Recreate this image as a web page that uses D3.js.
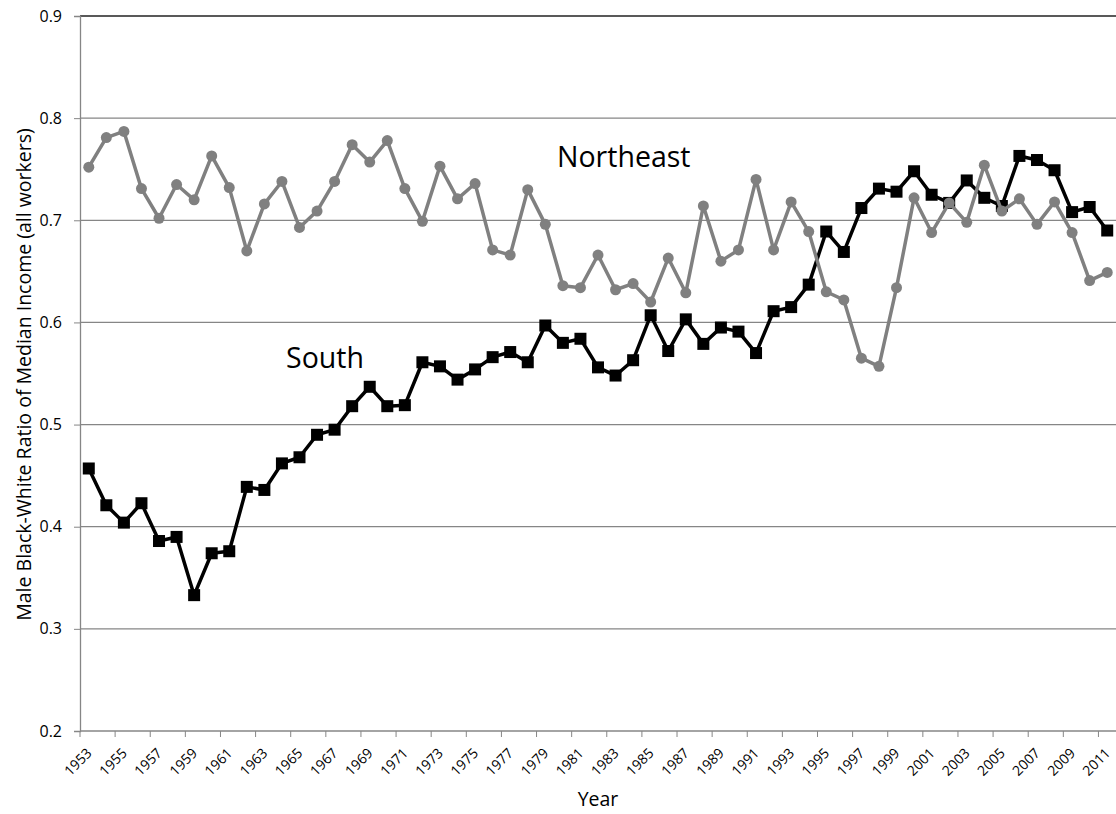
<!DOCTYPE html>
<html>
<head>
<meta charset="utf-8">
<script src="https://cdn.jsdelivr.net/npm/d3@7"></script>
<style>
  body { margin: 0; background: #fff; }
  text { font-family: "Open Sans", sans-serif; fill: #000; }
</style>
</head>
<body>
<svg id="chart" width="1116" height="814"></svg>
<script>
// Years on the category axis
const years = d3.range(1953, 2012);

// Male black-white ratio of median income, Northeast (gray circles)
const northeast = [0.752, 0.781, 0.787, 0.731, 0.702, 0.735, 0.720, 0.763, 0.732, 0.670,
  0.716, 0.738, 0.693, 0.709, 0.738, 0.774, 0.757, 0.778, 0.731, 0.699,
  0.753, 0.721, 0.736, 0.671, 0.666, 0.730, 0.696, 0.636, 0.634, 0.666,
  0.632, 0.638, 0.620, 0.663, 0.629, 0.714, 0.660, 0.671, 0.740, 0.671,
  0.718, 0.689, 0.630, 0.622, 0.565, 0.557, 0.634, 0.722, 0.688, 0.717,
  0.698, 0.754, 0.709, 0.721, 0.696, 0.718, 0.688, 0.641, 0.649];

// South (black squares)
const south = [0.457, 0.421, 0.404, 0.423, 0.386, 0.390, 0.333, 0.374, 0.376, 0.439,
  0.436, 0.462, 0.468, 0.490, 0.495, 0.518, 0.537, 0.518, 0.519, 0.561,
  0.557, 0.544, 0.554, 0.566, 0.571, 0.561, 0.597, 0.580, 0.584, 0.556,
  0.548, 0.563, 0.607, 0.572, 0.603, 0.579, 0.595, 0.591, 0.570, 0.611,
  0.615, 0.637, 0.689, 0.669, 0.712, 0.731, 0.728, 0.748, 0.725, 0.717,
  0.739, 0.722, 0.714, 0.763, 0.759, 0.749, 0.708, 0.713, 0.690];

const yTicks = [0.2, 0.3, 0.4, 0.5, 0.6, 0.7, 0.8, 0.9];

const svg = d3.select('#chart');
const plot = {left: 80, right: 1116, top: 16, bottom: 731};

const x = d3.scaleBand().domain(years).range([plot.left, plot.right]);
const y = d3.scaleLinear().domain([0.2, 0.9]).range([plot.bottom, plot.top]);
const cx = d => x(d) + x.bandwidth() / 2;

// gridlines
svg.append('g')
    .selectAll('line')
    .data(yTicks.filter(t => t > 0.2))
    .join('line')
    .attr('x1', plot.left).attr('x2', plot.right)
    .attr('y1', d => y(d)).attr('y2', d => y(d))
    .attr('stroke', d => d === 0.9 ? '#222' : '#868686')
    .attr('stroke-width', d => d === 0.9 ? 1.5 : 1.3);

// y axis
const yAxis = svg.append('g')
    .attr('transform', `translate(${plot.left},0)`)
    .call(d3.axisLeft(y).tickValues(yTicks).tickFormat(d3.format('.1f')).tickSizeOuter(0).tickSize(6).tickPadding(12));
yAxis.select('.domain').attr('stroke', '#868686').attr('stroke-width', 1.3);
yAxis.selectAll('.tick line').attr('stroke', '#868686');
yAxis.selectAll('.tick text')
    .attr('font-size', 16)
    .attr('font-family', '"Open Sans", sans-serif')
    .attr('fill', '#000');

// x axis (ticks every two categories, at band boundaries)
const xg = svg.append('g').attr('transform', `translate(0,${plot.bottom})`);
xg.append('line')
    .attr('x1', plot.left).attr('x2', plot.right)
    .attr('stroke', '#868686').attr('stroke-width', 1.3);
xg.selectAll('line.tk')
    .data(years.filter((d, i) => i % 2 === 0))
    .join('line')
    .attr('class', 'tk')
    .attr('x1', d => x(d)).attr('x2', d => x(d))
    .attr('y1', 0).attr('y2', 6)
    .attr('stroke', '#868686');
xg.selectAll('text')
    .data(years.filter((d, i) => i % 2 === 0))
    .join('text')
    .attr('transform', d => `translate(${cx(d) + 4},${23}) rotate(-45)`)
    .attr('text-anchor', 'end')
    .attr('font-size', 14)
    .text(d => d);

// axis titles
svg.append('text')
    .attr('x', 598).attr('y', 806)
    .attr('text-anchor', 'middle')
    .attr('font-size', 19.5)
    .text('Year');
svg.append('text')
    .attr('transform', `translate(31,374.5) rotate(-90)`)
    .attr('text-anchor', 'middle')
    .attr('font-size', 19.5)
    .text('Male Black-White Ratio of Median Income (all workers)');

const line = d3.line().x((d, i) => cx(years[i])).y(d => y(d));

// South
svg.append('path')
    .datum(south)
    .attr('d', line)
    .attr('fill', 'none')
    .attr('stroke', '#000')
    .attr('stroke-width', 3.5)
    .attr('stroke-linejoin', 'round');
svg.append('g')
    .selectAll('rect')
    .data(south)
    .join('rect')
    .attr('x', (d, i) => cx(years[i]) - 6)
    .attr('y', d => y(d) - 6)
    .attr('width', 12).attr('height', 12)
    .attr('fill', '#000');

// Northeast
svg.append('path')
    .datum(northeast)
    .attr('d', line)
    .attr('fill', 'none')
    .attr('stroke', '#808080')
    .attr('stroke-width', 3.5)
    .attr('stroke-linejoin', 'round');
svg.append('g')
    .selectAll('circle')
    .data(northeast)
    .join('circle')
    .attr('cx', (d, i) => cx(years[i]))
    .attr('cy', d => y(d))
    .attr('r', 5.5)
    .attr('fill', '#808080');

// series labels
svg.append('text')
    .attr('x', 557).attr('y', 167)
    .attr('font-size', 28.5)
    .text('Northeast');
svg.append('text')
    .attr('x', 286).attr('y', 368)
    .attr('font-size', 28.5)
    .text('South');
</script>
</body>
</html>
